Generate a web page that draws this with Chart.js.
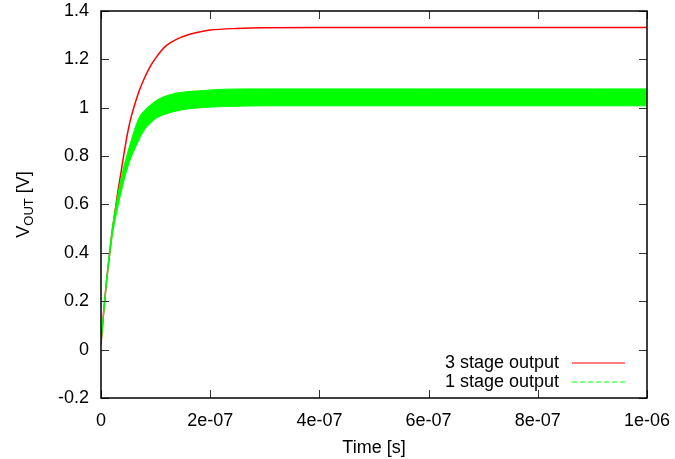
<!DOCTYPE html>
<html lang="en">

<style type="text/css">
    body {
        margin: 0;
        background: #ffffff;
    }

    .chartBox {
        width: 675px;
        height: 459px;
    }
</style>

<head>
    <meta charset="UTF-8">
    <title>VOUT step response</title>
</head>

<body>
    <div class="chartBox">
        <canvas id="myChart" width="675" height="459"></canvas>
    </div>

    <script src="https://cdn.jsdelivr.net/npm/chart.js"></script>

    <script>
        // values, time in ns
        const redTime = [0, 5, 10, 15, 20, 25, 30, 35, 40, 45, 50, 55, 60, 70, 80, 90, 100, 110, 120, 140, 160, 180, 200, 250, 300, 400, 500, 600, 700, 800, 900, 1000];
        const redVout = [0.02, 0.16, 0.28, 0.38, 0.48, 0.56, 0.64, 0.71, 0.78, 0.85, 0.91, 0.96, 1.00, 1.07, 1.125, 1.17, 1.205, 1.235, 1.258, 1.285, 1.302, 1.313, 1.321, 1.328, 1.331, 1.332, 1.332, 1.332, 1.332, 1.332, 1.332, 1.332];

        // 1 stage output rings fast, so keep its upper and lower envelope
        const greenTime = [0, 10, 20, 30, 40, 47, 56, 60, 70, 80, 90, 100, 105, 120, 145, 180, 230, 300, 400, 500, 600, 700, 800, 900, 1000];
        const greenLow = [0.02, 0.27, 0.46, 0.58, 0.68, 0.74, 0.80, 0.82, 0.87, 0.91, 0.935, 0.955, 0.962, 0.975, 0.99, 1.0, 1.005, 1.008, 1.008, 1.008, 1.008, 1.008, 1.008, 1.008, 1.008];
        const greenHigh = [0.03, 0.29, 0.49, 0.63, 0.74, 0.80, 0.87, 0.90, 0.96, 0.99, 1.01, 1.028, 1.035, 1.05, 1.063, 1.07, 1.077, 1.078, 1.078, 1.078, 1.078, 1.078, 1.078, 1.078, 1.078];

        const seriesNames = ['3 stage output', '1 stage output'];
        const yTicks = [-0.2, 0, 0.2, 0.4, 0.6, 0.8, 1, 1.2, 1.4];
        const yTickLabels = ['-0.2', '0', '0.2', '0.4', '0.6', '0.8', '1', '1.2', '1.4'];
        const xTicks = [0, 2e-7, 4e-7, 6e-7, 8e-7, 1e-6];
        const xTickLabels = ['0', '2e-07', '4e-07', '6e-07', '8e-07', '1e-06'];

        const FONT = 'Liberation Sans, Arial, sans-serif';
        const FSIZE = 18;

        function toPoints(times, vals) {
            return times.map((t, i) => ({ x: t * 1e-9, y: vals[i] }));
        }

        // gnuplot style frame, inward ticks on all four sides, key and y title
        const gnuFrame = {
            id: 'gnuFrame',
            afterDraw(chart) {
                const ctx = chart.ctx;
                const a = chart.chartArea;
                const xs = chart.scales.x;
                const ys = chart.scales.y;
                const tl = 8;

                ctx.save();
                ctx.strokeStyle = '#333333';
                ctx.lineWidth = 1;
                ctx.beginPath();
                xTicks.forEach(v => {
                    const px = Math.round(xs.getPixelForValue(v)) + 0.5;
                    ctx.moveTo(px, a.bottom); ctx.lineTo(px, a.bottom - tl);
                    ctx.moveTo(px, a.top); ctx.lineTo(px, a.top + tl);
                });
                yTicks.forEach(v => {
                    const py = Math.round(ys.getPixelForValue(v)) + 0.5;
                    ctx.moveTo(a.left, py); ctx.lineTo(a.left + tl, py);
                    ctx.moveTo(a.right, py); ctx.lineTo(a.right - tl, py);
                });
                ctx.stroke();

                ctx.strokeStyle = '#000000';
                ctx.lineWidth = 1.5;
                ctx.strokeRect(a.left, a.top, a.right - a.left, a.bottom - a.top);

                // key, bottom right
                ctx.font = FSIZE + 'px ' + FONT;
                ctx.fillStyle = '#000000';
                ctx.textAlign = 'right';
                ctx.textBaseline = 'middle';
                const keyY = [a.bottom - 35, a.bottom - 16];
                ctx.fillText(seriesNames[0], a.right - 88, keyY[0]);
                ctx.fillText(seriesNames[1], a.right - 88, keyY[1]);
                ctx.lineWidth = 1;
                ctx.strokeStyle = '#ff0000';
                ctx.beginPath();
                ctx.moveTo(a.right - 75, keyY[0]); ctx.lineTo(a.right - 22, keyY[0]);
                ctx.stroke();
                ctx.strokeStyle = '#00ff00';
                ctx.setLineDash([5, 3]);
                ctx.beginPath();
                ctx.moveTo(a.right - 75, keyY[1]); ctx.lineTo(a.right - 22, keyY[1]);
                ctx.stroke();
                ctx.setLineDash([]);

                // y title with subscript
                ctx.translate(23, (a.top + a.bottom) / 2);
                ctx.rotate(-Math.PI / 2);
                ctx.textAlign = 'left';
                ctx.textBaseline = 'alphabetic';
                const big = FSIZE + 'px ' + FONT;
                const small = '13px ' + FONT;
                ctx.font = big;
                const wV = ctx.measureText('V').width;
                const wB = ctx.measureText(' [V]').width;
                ctx.font = small;
                const wS = ctx.measureText('OUT').width;
                let x0 = -(wV + wS + wB) / 2;
                ctx.font = big;
                ctx.fillText('V', x0, 6);
                ctx.font = small;
                ctx.fillText('OUT', x0 + wV, 10);
                ctx.font = big;
                ctx.fillText(' [V]', x0 + wV + wS, 6);
                ctx.restore();
            }
        };

        const config = {
            type: 'line',
            data: {
                datasets: [
                    {
                        label: seriesNames[1] + ' low',
                        data: toPoints(greenTime, greenLow),
                        borderColor: '#00ff00',
                        backgroundColor: '#00ff00',
                        borderWidth: 1,
                        pointRadius: 0,
                        cubicInterpolationMode: 'monotone',
                        fill: false,
                        order: 1
                    },
                    {
                        label: seriesNames[1] + ' high',
                        data: toPoints(greenTime, greenHigh),
                        borderColor: '#00ff00',
                        backgroundColor: '#00ff00',
                        borderWidth: 1,
                        pointRadius: 0,
                        cubicInterpolationMode: 'monotone',
                        fill: '-1',
                        order: 1
                    },
                    {
                        label: seriesNames[0],
                        data: toPoints(redTime, redVout),
                        borderColor: '#ff0000',
                        borderWidth: 1.5,
                        pointRadius: 0,
                        cubicInterpolationMode: 'monotone',
                        fill: false,
                        order: 2
                    }
                ]
            },
            options: {
                responsive: false,
                animation: false,
                layout: {
                    padding: { left: 0, right: 28, top: 11, bottom: 0 }
                },
                plugins: {
                    legend: { display: false },
                    tooltip: { enabled: false }
                },
                scales: {
                    x: {
                        type: 'linear',
                        min: 0,
                        max: 1e-6,
                        afterBuildTicks: s => { s.ticks = xTicks.map(v => ({ value: v })); },
                        afterFit: s => {
                            s.height = 61;
                            s.paddingLeft = 0;
                            s.paddingRight = 0;
                        },
                        ticks: {
                            padding: 12,
                            color: '#000000',
                            font: { family: FONT, size: FSIZE },
                            maxRotation: 0,
                            callback: (v, i) => xTickLabels[i]
                        },
                        grid: { display: false, drawTicks: false },
                        border: { display: false },
                        title: {
                            display: true,
                            text: 'Time [s]',
                            color: '#000000',
                            font: { family: FONT, size: FSIZE },
                            padding: { top: 3, bottom: 0 }
                        }
                    },
                    y: {
                        type: 'linear',
                        min: -0.2,
                        max: 1.4,
                        afterBuildTicks: s => { s.ticks = yTicks.map(v => ({ value: v })); },
                        afterFit: s => {
                            s.width = 101;
                            s.paddingTop = 0;
                            s.paddingBottom = 0;
                        },
                        ticks: {
                            padding: 12,
                            color: '#000000',
                            font: { family: FONT, size: FSIZE },
                            callback: (v, i) => yTickLabels[i]
                        },
                        grid: { display: false, drawTicks: false },
                        border: { display: false }
                    }
                }
            },
            plugins: [gnuFrame]
        };

        const myChart = new Chart(document.getElementById('myChart'), config);
    </script>
</body>

</html>
